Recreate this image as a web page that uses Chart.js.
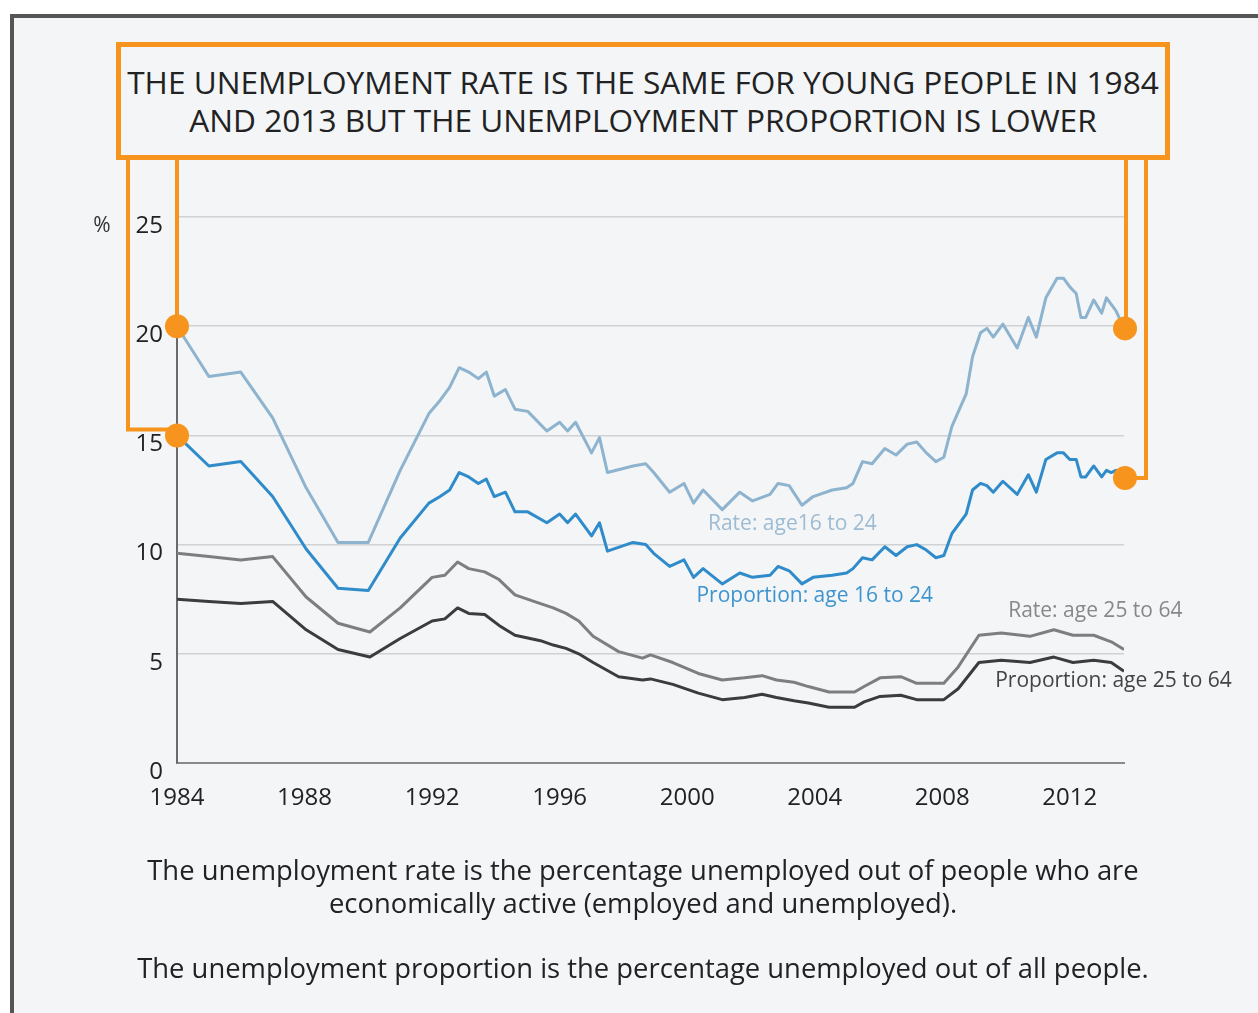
<!DOCTYPE html>
<html>
<head>
<meta charset="utf-8">
<script src="https://cdn.jsdelivr.net/npm/chart.js@4.4.1/dist/chart.umd.min.js"></script>
<style>
  html, body { margin: 0; padding: 0; background: #fff; width: 1258px; height: 1013px; overflow: hidden; font-family: "Open Sans", sans-serif; }
  #frame { position: absolute; left: 10px; top: 14px; width: 1400px; height: 1200px; border: 4px solid #555; background: #f3f5f7; }
  #chart { position: absolute; left: 0; top: 0; z-index: 1; }
  #titleBox { position: absolute; left: 116px; top: 42px; width: 1054px; height: 118px; box-sizing: border-box; border: 5px solid #f7941d; background: #f3f5f7; z-index: 2;
              display: flex; align-items: center; justify-content: center; text-align: center; font-size: 31.6px; line-height: 38px; color: #222; white-space: nowrap; }
  .note { position: absolute; left: 0; width: 1286px; text-align: center; font-size: 27.4px; line-height: 33px; color: #222; z-index: 2; white-space: nowrap; }
</style>
</head>
<body>
<div id="frame"></div>
<canvas id="chart" width="1258" height="1013"></canvas>
<div id="titleBox">THE UNEMPLOYMENT RATE IS THE SAME FOR YOUNG PEOPLE IN 1984<br>AND 2013 BUT THE UNEMPLOYMENT PROPORTION IS LOWER</div>
<div class="note" style="top:853px;">The unemployment rate is the percentage unemployed out of people who are<br>economically active (employed and unemployed).</div>
<div class="note" style="top:951px;">The unemployment proportion is the percentage unemployed out of all people.</div>

<script>
// ===============================
// Data
// ===============================

const tickYears = [1984, 1988, 1992, 1996, 2000, 2004, 2008, 2012];

// age 16 to 24
const youngYears = [1984.0, 1985.0, 1986.0, 1987.0, 1988.05, 1989.05, 1990.0, 1991.0, 1991.9, 1992.25,
    1992.55, 1992.85, 1993.15, 1993.45, 1993.7, 1993.95, 1994.3, 1994.6, 1995.0, 1995.6,
    1996.0, 1996.25, 1996.5, 1997.0, 1997.25, 1997.5, 1998.3, 1998.7, 1998.95, 1999.45,
    1999.9, 2000.2, 2000.5, 2001.1, 2001.65, 2002.05, 2002.6, 2002.85, 2003.2, 2003.6,
    2003.95, 2004.55, 2005.0, 2005.2, 2005.5, 2005.8, 2006.2, 2006.55, 2006.9, 2007.2,
    2007.5, 2007.8, 2008.05, 2008.3, 2008.75, 2008.95, 2009.2, 2009.4, 2009.6, 2009.9,
    2010.35, 2010.7, 2010.95, 2011.25, 2011.6, 2011.8, 2012.0, 2012.2, 2012.35, 2012.5,
    2012.75, 2013.0, 2013.15, 2013.3, 2013.45, 2013.7];

const rateYoung = [20.0, 17.7, 17.9, 15.8, 12.6, 10.1, 10.1, 13.4, 16.0, 16.6,
    17.2, 18.1, 17.9, 17.6, 17.9, 16.8, 17.1, 16.2, 16.1, 15.2,
    15.6, 15.2, 15.6, 14.2, 14.9, 13.3, 13.6, 13.7, 13.3, 12.4,
    12.8, 11.9, 12.5, 11.6, 12.4, 12.0, 12.3, 12.8, 12.7, 11.8,
    12.2, 12.5, 12.6, 12.8, 13.8, 13.7, 14.4, 14.1, 14.6, 14.7,
    14.2, 13.8, 14.0, 15.4, 16.9, 18.6, 19.7, 19.9, 19.5, 20.1,
    19.0, 20.4, 19.5, 21.3, 22.2, 22.2, 21.8, 21.5, 20.4, 20.4,
    21.2, 20.6, 21.3, 21.0, 20.7, 19.9];

const propYoung = [15.0, 13.6, 13.8, 12.2, 9.8, 8.0, 7.9, 10.3, 11.9, 12.2,
    12.5, 13.3, 13.1, 12.8, 13.0, 12.2, 12.4, 11.5, 11.5, 11.0,
    11.4, 11.0, 11.4, 10.4, 11.0, 9.7, 10.1, 10.0, 9.6, 9.0,
    9.3, 8.5, 8.9, 8.2, 8.7, 8.5, 8.6, 9.0, 8.8, 8.2,
    8.5, 8.6, 8.7, 8.9, 9.4, 9.3, 9.9, 9.5, 9.9, 10.0,
    9.75, 9.4, 9.5, 10.5, 11.4, 12.5, 12.8, 12.7, 12.4, 12.9,
    12.3, 13.2, 12.4, 13.9, 14.2, 14.2, 13.9, 13.9, 13.1, 13.1,
    13.6, 13.1, 13.4, 13.3, 13.4, 13.05];

// age 25 to 64
const olderYears = [1984.0, 1985.0, 1986.0, 1987.0, 1988.05, 1989.05, 1990.05, 1991.0, 1992.0, 1992.4,
    1992.8, 1993.15, 1993.65, 1994.1, 1994.6, 1995.4, 1995.8, 1996.2, 1996.6, 1997.05,
    1997.85, 1998.6, 1998.85, 1999.55, 2000.35, 2001.1, 2001.8, 2002.35, 2002.8, 2003.35,
    2003.8, 2004.45, 2005.25, 2005.55, 2006.05, 2006.7, 2007.2, 2008.05, 2008.5, 2009.15,
    2009.85, 2010.75, 2011.5, 2012.1, 2012.75, 2013.3, 2013.7];

const rateOlder = [9.6, 9.45, 9.3, 9.45, 7.6, 6.4, 6.0, 7.1, 8.5, 8.6,
    9.2, 8.9, 8.75, 8.4, 7.7, 7.3, 7.1, 6.85, 6.5, 5.8,
    5.1, 4.8, 4.95, 4.6, 4.1, 3.8, 3.9, 4.0, 3.8, 3.7,
    3.5, 3.25, 3.25, 3.5, 3.9, 3.95, 3.65, 3.65, 4.4, 5.85,
    5.95, 5.8, 6.1, 5.85, 5.85, 5.55, 5.2];

const propOlder = [7.5, 7.4, 7.3, 7.4, 6.1, 5.2, 4.85, 5.7, 6.5, 6.6,
    7.1, 6.85, 6.8, 6.3, 5.85, 5.6, 5.4, 5.25, 5.0, 4.6,
    3.95, 3.8, 3.85, 3.6, 3.2, 2.9, 3.0, 3.15, 3.0, 2.85,
    2.75, 2.55, 2.55, 2.8, 3.05, 3.1, 2.9, 2.9, 3.4, 4.6,
    4.7, 4.6, 4.85, 4.6, 4.7, 4.6, 4.2];

const seriesLabels = ["Rate: age16 to 24", "Proportion: age 16 to 24", "Rate: age 25 to 64", "Proportion: age 25 to 64"];

// ===============================
// Helpers
// ===============================

function toPoints(xs, ys) {
    return xs.map((x, i) => ({ x: x, y: ys[i] }));
}

const ORANGE = "#f7941d";

// orange callouts, dots, series labels and the % sign
const annotations = {
    id: "annotations",
    afterDatasetsDraw(chart) {
        const c = chart.ctx;
        const xs = chart.scales.x;
        const ys = chart.scales.y;

        const first = youngYears[0];
        const last = youngYears[youngYears.length - 1];
        const xL = xs.getPixelForValue(first);
        const xR = xs.getPixelForValue(last);
        const yL1 = ys.getPixelForValue(rateYoung[0]);
        const yL2 = ys.getPixelForValue(propYoung[0]);
        const yR1 = ys.getPixelForValue(rateYoung[rateYoung.length - 1]);
        const yR2 = ys.getPixelForValue(propYoung[propYoung.length - 1]);
        const boxBottom = 158;

        c.save();
        c.strokeStyle = ORANGE;
        c.lineWidth = 4;
        c.lineJoin = "miter";

        c.beginPath();
        c.moveTo(xL, boxBottom);
        c.lineTo(xL, yL1);
        c.moveTo(xL - 49, boxBottom);
        c.lineTo(xL - 49, yL2 - 6);
        c.lineTo(xL, yL2 - 6);
        c.moveTo(xR + 2, boxBottom);
        c.lineTo(xR + 2, yR1);
        c.moveTo(xR + 22, boxBottom);
        c.lineTo(xR + 22, yR2);
        c.lineTo(xR, yR2);
        c.stroke();

        c.fillStyle = ORANGE;
        [[xL, yL1], [xL, yL2], [xR + 1, yR1], [xR + 1, yR2]].forEach(p => {
            c.beginPath();
            c.arc(p[0], p[1], 12, 0, Math.PI * 2);
            c.fill();
        });

        // series labels
        c.font = "21px 'Open Sans'";
        c.textAlign = "center";
        c.textBaseline = "middle";
        const labelPos = [
            [2003.3, 10.95, "#9dbbd3"],
            [2004.0, 7.65, "#3d94cf"],
            [2012.8, 6.96, "#888888"],
            [2013.37, 3.75, "#444444"]
        ];
        labelPos.forEach((p, i) => {
            c.fillStyle = p[2];
            c.fillText(seriesLabels[i], xs.getPixelForValue(p[0]), ys.getPixelForValue(p[1]));
        });

        // % sign beside the top tick
        c.font = "21px 'Open Sans'";
        c.fillStyle = "#333";
        c.fillText("%", 102, ys.getPixelForValue(25) + 9);
        c.restore();
    }
};

// ===============================
// Chart
// ===============================

const ctx = document.getElementById("chart").getContext("2d");

new Chart(ctx, {
    type: "line",
    data: {
        datasets: [
            { data: toPoints(olderYears, propOlder), borderColor: "#3c3c3c", borderWidth: 3 },
            { data: toPoints(olderYears, rateOlder), borderColor: "#7e7e7e", borderWidth: 3 },
            { data: toPoints(youngYears, propYoung), borderColor: "#2f8bc9", borderWidth: 3 },
            { data: toPoints(youngYears, rateYoung), borderColor: "#8db3cf", borderWidth: 3 }
        ]
    },
    options: {
        responsive: false,
        animation: false,
        parsing: false,
        elements: {
            point: { radius: 0 },
            line: { tension: 0, borderJoinStyle: "round" }
        },
        layout: {
            padding: { top: 217, right: 134, left: 0, bottom: 0 }
        },
        plugins: {
            legend: { display: false },
            tooltip: { enabled: false }
        },
        scales: {
            x: {
                type: "linear",
                min: 1984,
                max: 2013.7,
                afterBuildTicks: s => { s.ticks = tickYears.map(v => ({ value: v })); },
                afterFit: s => { s.height = 250; },
                grid: { display: false, drawTicks: false },
                border: { display: true, color: "#8a8a8a", width: 2 },
                ticks: {
                    font: { size: 24, family: "Open Sans" },
                    color: "#222",
                    padding: 21,
                    maxRotation: 0,
                    autoSkip: false,
                    callback: v => String(v)
                }
            },
            y: {
                min: 0,
                max: 25,
                afterFit: s => { s.width = 177; },
                grid: { color: "#cfd1d4", lineWidth: 1.5, drawTicks: false },
                border: { display: true, color: "#6a6a6a", width: 2 },
                ticks: {
                    stepSize: 5,
                    font: { size: 24, family: "Open Sans" },
                    color: "#222",
                    padding: 14,
                    labelOffset: 9
                }
            }
        }
    },
    plugins: [annotations]
});
</script>
</body>
</html>
